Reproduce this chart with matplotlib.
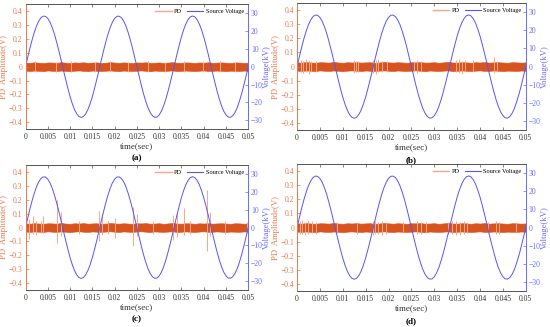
import matplotlib
matplotlib.use("Agg")
import matplotlib.pyplot as plt
from matplotlib.lines import Line2D
import numpy as np

plt.rcParams["font.family"] = ["Liberation Serif", "DejaVu Serif"]

# source voltage (kV), sampled every 0.5 ms from 0 to 0.05 s
VOLTAGE_KV = [
    0, 5.3, 10.5, 15.3, 19.5, 23.1, 25.8, 27.6, 28.4, 28.3, 27.1, 25.0, 22.0,
    18.2, 13.7, 8.8, 3.6, -1.8, -7.1, -12.1, -16.8, -20.8, -24.1, -26.5, -28.0,
    -28.5, -28.0, -26.5, -24.1, -20.8, -16.8, -12.1, -7.1, -1.8, 3.6, 8.8, 13.7,
    18.2, 22.0, 25.0, 27.1, 28.3, 28.4, 27.6, 25.8, 23.1, 19.5, 15.3, 10.5, 5.3,
    0, -5.3, -10.5, -15.3, -19.5, -23.1, -25.8, -27.6, -28.4, -28.3, -27.1,
    -25.0, -22.0, -18.2, -13.7, -8.8, -3.6, 1.8, 7.1, 12.1, 16.8, 20.8, 24.1,
    26.5, 28.0, 28.5, 28.0, 26.5, 24.1, 20.8, 16.8, 12.1, 7.1, 1.8, -3.6, -8.8,
    -13.7, -18.2, -22.0, -25.0, -27.1, -28.3, -28.4, -27.6, -25.8, -23.1, -19.5,
    -15.3, -10.5, -5.3, 0,
]

# PD noise band envelope (V), sampled every 1 ms
PD_BAND_UPPER = [
    0.030, 0.028, 0.032, 0.029, 0.027, 0.031, 0.030, 0.028, 0.033, 0.029, 0.027,
    0.031, 0.029, 0.032, 0.028, 0.030, 0.031, 0.027, 0.029, 0.033, 0.030, 0.028,
    0.031, 0.029, 0.027, 0.031, 0.030, 0.032, 0.028, 0.029, 0.031, 0.027, 0.030,
    0.033, 0.029, 0.028, 0.031, 0.030, 0.027, 0.031, 0.029, 0.032, 0.028, 0.030,
    0.031, 0.029, 0.027, 0.031, 0.030, 0.028, 0.030,
]
PD_BAND_LOWER = [
    -0.029, -0.031, -0.028, -0.030, -0.032, -0.027, -0.030, -0.031, -0.028,
    -0.030, -0.033, -0.029, -0.027, -0.030, -0.032, -0.028, -0.030, -0.031,
    -0.029, -0.027, -0.030, -0.032, -0.028, -0.030, -0.031, -0.029, -0.027,
    -0.030, -0.033, -0.028, -0.030, -0.031, -0.029, -0.027, -0.032, -0.030,
    -0.028, -0.030, -0.032, -0.029, -0.027, -0.031, -0.030, -0.028, -0.030,
    -0.032, -0.029, -0.030, -0.031, -0.028, -0.030,
]

# PD pulses per panel: time (s), positive peak (V), negative peak (V)
SPIKE_T_A = [0.0021, 0.0068, 0.0102, 0.0157, 0.0189, 0.0231, 0.0274, 0.0312,
             0.0356, 0.0398, 0.0437, 0.0471]
SPIKE_UP_A = [0.038, 0.036, 0.040, 0.037, 0.039, 0.036, 0.038, 0.037, 0.040,
              0.036, 0.038, 0.037]
SPIKE_DN_A = [-0.037, -0.039, -0.036, -0.038, -0.037, -0.040, -0.036, -0.038,
              -0.037, -0.039, -0.036, -0.038]

SPIKE_T_B = [0.0008, 0.0014, 0.0019, 0.0026, 0.0031, 0.0042, 0.0124, 0.0129,
             0.0134, 0.0166, 0.0172, 0.0178, 0.0185, 0.0196, 0.0255, 0.0262,
             0.0271, 0.0348, 0.0354, 0.0361, 0.0368, 0.0385, 0.0431, 0.0436]
SPIKE_UP_B = [0.050, 0.042, 0.055, 0.045, 0.042, 0.040, 0.045, 0.042, 0.040,
              0.050, 0.045, 0.055, 0.042, 0.040, 0.042, 0.045, 0.040, 0.045,
              0.055, 0.042, 0.045, 0.050, 0.065, 0.042]
SPIKE_DN_B = [-0.042, -0.048, -0.040, -0.050, -0.042, -0.040, -0.048, -0.040,
              -0.042, -0.048, -0.050, -0.042, -0.040, -0.042, -0.040, -0.048,
              -0.042, -0.040, -0.048, -0.050, -0.042, -0.040, -0.048, -0.040]

SPIKE_T_C = [0.00085, 0.00176, 0.0024, 0.0035, 0.0040, 0.00715, 0.0079, 0.0119,
             0.0164, 0.0171, 0.0186, 0.0201, 0.0242, 0.0250, 0.0287, 0.0332,
             0.0339, 0.0355, 0.0370, 0.0407, 0.0415, 0.0448, 0.0497]
SPIKE_UP_C = [0.060, 0.083, 0.045, 0.048, 0.083, 0.198, 0.110, 0.048, 0.120,
              0.107, 0.045, 0.067, 0.150, 0.100, 0.045, 0.090, 0.114, 0.138,
              0.048, 0.270, 0.114, 0.045, 0.042]
SPIKE_DN_C = [-0.083, -0.045, -0.052, -0.040, -0.042, -0.110, -0.064, -0.045,
              -0.100, -0.052, -0.045, -0.076, -0.136, -0.060, -0.045, -0.088,
              -0.070, -0.052, -0.045, -0.170, -0.060, -0.045, -0.040]

SPIKE_T_D = [0.0006, 0.0012, 0.0018, 0.0025, 0.0033, 0.0041, 0.0087, 0.0131,
             0.0165, 0.0171, 0.0178, 0.0186, 0.0195, 0.0232, 0.0263, 0.0272,
             0.0281, 0.0331, 0.0339, 0.0347, 0.0356, 0.0364, 0.0372, 0.0418,
             0.0434, 0.0441, 0.0478]
SPIKE_UP_D = [0.045, 0.055, 0.042, 0.050, 0.045, 0.042, 0.040, 0.042, 0.045,
              0.050, 0.042, 0.045, 0.042, 0.040, 0.045, 0.042, 0.040, 0.042,
              0.045, 0.050, 0.042, 0.045, 0.040, 0.040, 0.045, 0.042, 0.040]
SPIKE_DN_D = [-0.042, -0.045, -0.050, -0.042, -0.040, -0.045, -0.040, -0.042,
              -0.050, -0.042, -0.045, -0.055, -0.042, -0.040, -0.042, -0.045,
              -0.040, -0.045, -0.042, -0.050, -0.055, -0.042, -0.040, -0.040,
              -0.042, -0.045, -0.040]

TIME_TICKS = [0, 0.005, 0.01, 0.015, 0.02, 0.025, 0.03, 0.035, 0.04, 0.045, 0.05]
TIME_TICK_LABELS = ["0", "0.005", "0.01", "0.015", "0.02", "0.025", "0.03",
                    "0.035", "0.04", "0.045", "0.05"]
PD_TICKS = [-0.4, -0.3, -0.2, -0.1, 0, 0.1, 0.2, 0.3, 0.4]
KV_TICKS = [-30, -20, -10, 0, 10, 20, 30]

PD_DARK = "#D9531E"
PD_LIGHT = "#F4A888"
PD_AXIS = "#E8784A"
VOLT = "#5555FA"
VOLT_AXIS = "#6A6AFF"
FRAME = "#555555"


def fmt(v):
    return f"{v:g}".replace("-", "\u2212")


def draw_panel(fig, rect, letter, spike_t, spike_up, spike_dn):
    ax = fig.add_axes(rect)
    t_band = np.linspace(0, 0.05, len(PD_BAND_UPPER))
    t_volt = np.linspace(0, 0.05, len(VOLTAGE_KV))

    ax.vlines(spike_t, spike_dn, spike_up, color=PD_LIGHT, linewidth=0.7)
    ax.fill_between(t_band, PD_BAND_LOWER, PD_BAND_UPPER, color=PD_DARK,
                    linewidth=0.4, edgecolor=PD_DARK)
    ax.set_xlim(0, 0.05)
    ax.set_ylim(-0.45, 0.45)
    ax.set_xticks(TIME_TICKS)
    ax.set_xticklabels(TIME_TICK_LABELS)
    ax.set_yticks(PD_TICKS)
    ax.set_yticklabels([fmt(v) for v in PD_TICKS])
    ax.tick_params(axis="x", direction="in", length=2, width=0.5, labelsize=5.5,
                   pad=3, top=True, color=FRAME, labelcolor="#333333")
    ax.tick_params(axis="y", direction="in", length=2, width=0.5, labelsize=5.5,
                   pad=2, color=PD_AXIS, labelcolor=PD_AXIS)
    ax.set_xlabel("time(sec)", fontsize=6.5, labelpad=1, color="#333333")
    ax.set_ylabel("PD  Amplitude(V)", fontsize=6.2, labelpad=0.5, color=PD_AXIS)

    ax2 = ax.twinx()
    ax2.plot(t_volt, VOLTAGE_KV, color=VOLT, linewidth=0.7)
    ax2.set_ylim(-35, 35)
    ax2.set_yticks(KV_TICKS)
    ax2.set_yticklabels([fmt(v) for v in KV_TICKS])
    ax2.tick_params(axis="y", direction="in", length=2, width=0.5, labelsize=5.5,
                    pad=2, color=VOLT_AXIS, labelcolor=VOLT_AXIS)
    ax2.set_ylabel("Voltage(kV)", fontsize=6.2, labelpad=0, color=VOLT_AXIS)

    for a in (ax, ax2):
        a.spines["top"].set_color(FRAME)
        a.spines["bottom"].set_color(FRAME)
        a.spines["left"].set_color(PD_AXIS)
        a.spines["right"].set_color(VOLT_AXIS)
        for s in a.spines.values():
            s.set_linewidth(0.6)

    handles = [Line2D([], [], color=PD_LIGHT, linewidth=1.0),
               Line2D([], [], color=VOLT, linewidth=0.8)]
    ax2.legend(handles, ["PD", "Source Voltage"], loc="upper right", ncol=2,
               frameon=False, fontsize=4.5, handlelength=2.6, columnspacing=0.8,
               handletextpad=0.4, borderaxespad=0.3)

    ax.text(0.5, -0.235, letter, transform=ax.transAxes, ha="center", va="center",
            fontsize=6.5, fontweight="bold")
    return ax, ax2


fig = plt.figure(figsize=(5.5, 3.27), dpi=100)

draw_panel(fig, [0.0464, 0.6055, 0.405, 0.381], "(a)", SPIKE_T_A, SPIKE_UP_A, SPIKE_DN_A)
draw_panel(fig, [0.540, 0.6024, 0.416, 0.388], "(b)", SPIKE_T_B, SPIKE_UP_B, SPIKE_DN_B)
draw_panel(fig, [0.0464, 0.1131, 0.405, 0.382], "(c)", SPIKE_T_C, SPIKE_UP_C, SPIKE_DN_C)
draw_panel(fig, [0.540, 0.1100, 0.416, 0.388], "(d)", SPIKE_T_D, SPIKE_UP_D, SPIKE_DN_D)

fig.savefig("out.png", dpi=100)
